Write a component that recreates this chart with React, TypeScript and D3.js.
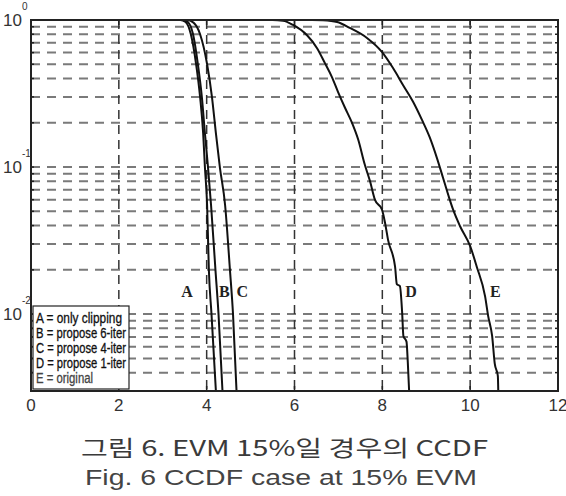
import React from "react";
import * as d3 from "d3";

const xTicks = [0, 2, 4, 6, 8, 10, 12];
const yDecadeExps = [0, -1, -2];
const yMinorMultipliers = [1, 2, 3, 4, 5, 6, 7, 8, 9];

const curveA: [number, number][] = [
  [0, 1], [3.4, 1], [3.52, 0.97], [3.64, 0.8], [3.76, 0.5], [3.85, 0.3], [3.92, 0.17],
  [3.96, 0.1], [4.01, 0.055], [4.05, 0.02], [4.11, 0.01], [4.21, 0.003],
];
const curveB: [number, number][] = [
  [0, 1], [3.45, 1], [3.57, 0.97], [3.69, 0.8], [3.8, 0.5], [3.89, 0.3], [3.96, 0.17],
  [4.03, 0.1], [4.1, 0.055], [4.2, 0.02], [4.27, 0.01], [4.36, 0.003],
];
const curveC: [number, number][] = [
  [0, 1], [3.55, 1], [3.7, 0.96], [3.85, 0.8], [4.01, 0.5], [4.12, 0.3], [4.21, 0.17],
  [4.3, 0.1], [4.42, 0.055], [4.53, 0.02], [4.6, 0.01], [4.68, 0.003],
];
const curveD: [number, number][] = [
  [0, 1], [5.5, 1], [5.74, 0.99], [5.97, 0.925], [6.28, 0.79], [6.51, 0.646], [6.69, 0.511],
  [6.85, 0.411], [6.99, 0.325], [7.15, 0.253], [7.31, 0.2], [7.45, 0.154], [7.6, 0.104],
  [7.72, 0.08], [7.83, 0.06], [7.99, 0.0515], [8.06, 0.042], [8.13, 0.032], [8.29, 0.021],
  [8.33, 0.016], [8.4, 0.0155], [8.45, 0.0104], [8.48, 0.0071], [8.55, 0.0065],
  [8.58, 0.0047], [8.61, 0.003],
];
const curveE: [number, number][] = [
  [0, 1], [6.4, 1], [6.65, 0.995], [6.97, 0.969], [7.26, 0.883], [7.65, 0.755], [7.99, 0.607],
  [8.24, 0.473], [8.47, 0.362], [8.7, 0.278], [8.9, 0.21], [9.08, 0.159], [9.24, 0.116],
  [9.38, 0.085], [9.52, 0.062], [9.61, 0.0515], [9.77, 0.0396], [10.0, 0.029],
  [10.15, 0.021], [10.34, 0.0132], [10.41, 0.0097], [10.5, 0.0071], [10.56, 0.0046],
  [10.63, 0.0038], [10.64, 0.003],
];
const curves = [curveA, curveB, curveC, curveD, curveE];

const curveLabels = ["A", "B", "C", "D", "E"];
const curveLabelX = [3.42, 4.28, 4.68, 8.52, 10.45];
const curveLabelP = [0.0131, 0.0131, 0.0131, 0.0131, 0.0131];

const legendLines = [
  "A = only clipping",
  "B = propose 6-iter",
  "C = propose 4-iter",
  "D = propose 1-iter",
  "E = original",
];
const legendWidths = [86, 90, 90, 90, 57];

const captionKo = "그림 6. EVM 15%일 경우의 CCDF";
const captionEn = "Fig. 6 CCDF case at 15% EVM";

export default function App() {
  const W = 566;
  const H = 496;
  const L = 31, R = 558, T = 20, B = 391;
  const x = d3.scaleLinear().domain([0, 12]).range([L, R]);
  const y = d3.scaleLog().domain([0.003, 1]).range([B, T]);

  const minorVals: number[] = [];
  [-3, -2, -1].forEach((e) => {
    yMinorMultipliers.forEach((m) => {
      const v = m * Math.pow(10, e);
      if (v >= 0.003 - 1e-9 && v < 1 - 1e-9) minorVals.push(v);
    });
  });

  const line = d3
    .line<[number, number]>()
    .x((d) => x(d[0]))
    .y((d) => y(d[1]))
    .curve(d3.curveMonotoneX);

  return (
    <svg
      width={W}
      height={H}
      style={{ position: "absolute", left: 0, top: 0, background: "#fff" }}
    >
      <rect x={0} y={0} width={W} height={H} fill="#fff" />
      {minorVals.map((v, i) => (
        <line
          key={"h" + i}
          x1={L}
          x2={R}
          y1={y(v)}
          y2={y(v)}
          stroke="#7a7a7a"
          strokeWidth={2}
          strokeDasharray="9,7"
        />
      ))}
      {xTicks.slice(1, -1).map((t, i) => (
        <line
          key={"v" + i}
          x1={x(t)}
          x2={x(t)}
          y1={T}
          y2={B}
          stroke="#333"
          strokeWidth={1.5}
          strokeDasharray="9,6"
        />
      ))}
      {xTicks.map((t, i) => (
        <g key={"xt" + i}>
          <line x1={x(t)} x2={x(t)} y1={B} y2={B - 5} stroke="#222" strokeWidth={1.5} />
          <line x1={x(t)} x2={x(t)} y1={T} y2={T + 5} stroke="#222" strokeWidth={1.5} />
        </g>
      ))}
      {minorVals.map((v, i) => (
        <g key={"yt" + i}>
          <line x1={L} x2={L + 3} y1={y(v)} y2={y(v)} stroke="#222" strokeWidth={1.5} />
          <line x1={R} x2={R - 3} y1={y(v)} y2={y(v)} stroke="#222" strokeWidth={1.5} />
        </g>
      ))}
      {curves.map((c, i) => (
        <path key={"c" + i} d={line(c) || ""} fill="none" stroke="#111" strokeWidth={2} />
      ))}
      {curveLabels.map((lab, i) => (
        <text
          key={"cl" + i}
          x={x(curveLabelX[i])}
          y={y(curveLabelP[i])}
          fontFamily="'Liberation Serif', 'Times New Roman', serif"
          fontWeight="bold"
          fontSize={16}
          fill="#222"
        >
          {lab}
        </text>
      ))}
      <rect x={L} y={T} width={R - L} height={B - T} fill="none" stroke="#222" strokeWidth={2} />
      <rect x={33} y={306} width={96} height={83} fill="#fff" stroke="#222" strokeWidth={1.2} />
      {legendLines.map((s, i) => (
        <text
          key={"lg" + i}
          x={36}
          y={322.5 + i * 15.1}
          fontFamily="'Liberation Sans', Arial, sans-serif"
          fontSize={14}
          textLength={legendWidths[i]}
          lengthAdjust="spacingAndGlyphs"
          fill={i === 4 ? "#444" : "#111"}
          stroke={i === 4 ? "#444" : "#111"}
          strokeWidth={0.3}
        >
          {s}
        </text>
      ))}
      {xTicks.map((t, i) => (
        <text
          key={"xl" + i}
          x={x(t)}
          y={411}
          textAnchor="middle"
          fontFamily="'Liberation Sans', Arial, sans-serif"
          fontSize={17}
          fill="#333"
        >
          {t}
        </text>
      ))}
      {yDecadeExps.map((e, i) => (
        <g key={"yl" + i}>
          <text
            x={22}
            y={y(Math.pow(10, e)) + 6}
            textAnchor="end"
            fontFamily="'Liberation Sans', Arial, sans-serif"
            fontSize={17}
            fill="#333"
          >
            10
          </text>
          <text
            x={22}
            y={y(Math.pow(10, e)) - 10}
            textAnchor="start"
            fontFamily="'Liberation Sans', Arial, sans-serif"
            fontSize={10}
            fill="#333"
          >
            {e === 0 ? "0" : "-" + Math.abs(e)}
          </text>
        </g>
      ))}
      <text
        x={81}
        y={456}
        fontFamily="'Noto Sans CJK KR', sans-serif"
        fontSize={22}
        textLength={407}
        lengthAdjust="spacingAndGlyphs"
        fill="#3a3a3a"
      >
        {captionKo}
      </text>
      <text
        x={85}
        y={485}
        fontFamily="'Liberation Sans', Arial, sans-serif"
        fontSize={22}
        textLength={392}
        lengthAdjust="spacingAndGlyphs"
        fill="#444"
      >
        {captionEn}
      </text>
    </svg>
  );
}
